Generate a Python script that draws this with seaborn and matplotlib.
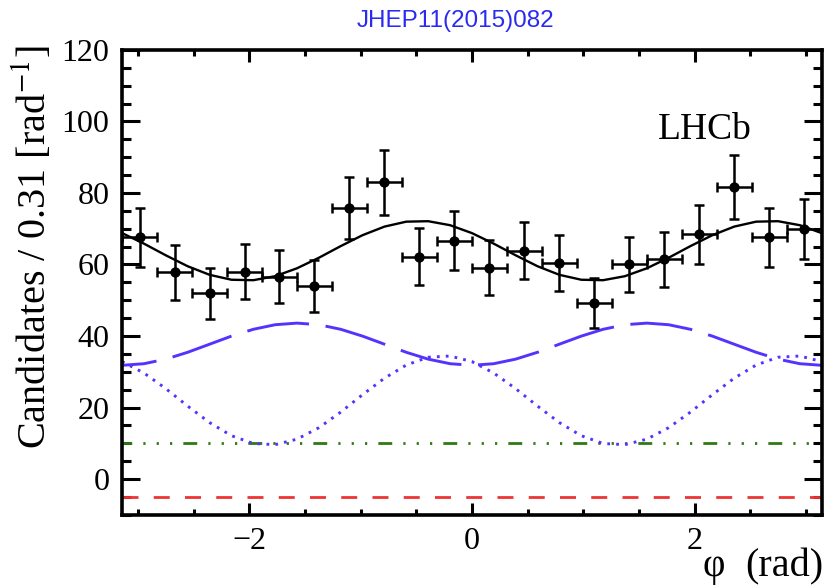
import numpy as np
import pandas as pd
import matplotlib
matplotlib.use("Agg")
import matplotlib.pyplot as plt
from matplotlib.ticker import MultipleLocator
import seaborn as sns

# ---- data ----
bin_centers = [-2.985, -2.670, -2.356, -2.042, -1.728, -1.414, -1.100, -0.785, -0.471, -0.157,
               0.157, 0.471, 0.785, 1.100, 1.414, 1.728, 2.042, 2.356, 2.670, 2.985]
candidates = [67.6, 57.8, 51.9, 58.0, 56.6, 54.0, 75.7, 83.0, 62.2, 66.7,
              59.1, 63.8, 60.3, 49.1, 60.0, 61.4, 68.4, 81.6, 67.6, 69.8]
cand_err = [8.2, 7.6, 7.2, 7.6, 7.5, 7.3, 8.7, 9.1, 7.9, 8.2,
            7.7, 8.0, 7.8, 7.0, 7.7, 7.8, 8.3, 9.0, 8.2, 8.4]
half_bin = 0.157

curve_x = [-3.142, -2.945, -2.749, -2.553, -2.356, -2.160, -1.963, -1.767, -1.571, -1.374,
           -1.178, -0.982, -0.785, -0.589, -0.393, -0.196, 0.000, 0.196, 0.393, 0.589,
           0.785, 0.982, 1.178, 1.374, 1.571, 1.767, 1.963, 2.160, 2.356, 2.553,
           2.749, 2.945, 3.142]
total_fit = [68.77, 65.82, 62.56, 59.51, 57.11, 55.73, 55.60, 56.72, 58.93, 61.88,
             65.14, 68.19, 70.59, 71.97, 72.10, 70.98, 68.77, 65.82, 62.56, 59.51,
             57.11, 55.73, 55.60, 56.72, 58.93, 61.88, 65.14, 68.19, 70.59, 71.97,
             72.10, 70.98, 68.77]
dashed_comp = [31.80, 32.25, 33.53, 35.44, 37.70, 39.96, 41.87, 43.15, 43.60, 43.15,
               41.87, 39.96, 37.70, 35.44, 33.53, 32.25, 31.80, 32.25, 33.53, 35.44,
               37.70, 39.96, 41.87, 43.15, 43.60, 43.15, 41.87, 39.96, 37.70, 35.44,
               33.53, 32.25, 31.80]
dotted_comp = [32.85, 29.64, 25.28, 20.41, 15.79, 12.12, 9.94, 9.61, 11.15, 14.36,
               18.72, 23.59, 28.21, 31.88, 34.06, 34.40, 32.85, 29.64, 25.28, 20.41,
               15.79, 12.12, 9.94, 9.61, 11.15, 14.36, 18.72, 23.59, 28.21, 31.88,
               34.06, 34.40, 32.85]
flat_x = [-3.142, 3.142]
green_comp = [10.0, 10.0]
red_comp = [-5.0, -5.0]

# ---- style ----
sns.set_style("white")
plt.rcParams['font.family'] = ['Liberation Serif', 'DejaVu Serif']
plt.rcParams['mathtext.fontset'] = 'stix'
plt.rcParams['lines.scale_dashes'] = False
plt.rcParams['text.color'] = 'black'

fig = plt.figure(figsize=(8.25, 5.87), dpi=100)
ax = fig.add_axes([0.148, 0.123, 0.848, 0.792])

blue = '#5533ff'
df_tot = pd.DataFrame({'x': curve_x, 'y': total_fit})
df_dash = pd.DataFrame({'x': curve_x, 'y': dashed_comp})
df_dot = pd.DataFrame({'x': curve_x, 'y': dotted_comp})
df_g = pd.DataFrame({'x': flat_x, 'y': green_comp})
df_r = pd.DataFrame({'x': flat_x, 'y': red_comp})

sns.lineplot(data=df_r, x='x', y='y', ax=ax, color='#ee3333', lw=2.0,
             linestyle=(0, (11.5, 11)))
sns.lineplot(data=df_g, x='x', y='y', ax=ax, color='#2f7a12', lw=2.0,
             linestyle=(3, (10, 8, 1.6, 8, 1.6, 8, 1.6, 8)))
sns.lineplot(data=df_dash, x='x', y='y', ax=ax, color=blue, lw=2.1,
             linestyle=(20, (45, 12)))
sns.lineplot(data=df_dot, x='x', y='y', ax=ax, color=blue, lw=2.1,
             linestyle=(0, (2.0, 4.4)))
sns.lineplot(data=df_tot, x='x', y='y', ax=ax, color='black', lw=1.7)

ax.errorbar(bin_centers, candidates, yerr=cand_err, xerr=half_bin, fmt='none',
            ecolor='black', elinewidth=1.8, capsize=3.5, capthick=1.8, zorder=5)
df_pts = pd.DataFrame({'x': bin_centers, 'y': candidates})
sns.scatterplot(data=df_pts, x='x', y='y', ax=ax, color='black', s=55,
                edgecolor='black', linewidth=0, zorder=6)

ax.set_xlim(-3.1416, 3.1416)
ax.set_ylim(-10, 120)
ax.xaxis.set_major_locator(MultipleLocator(2))
ax.xaxis.set_minor_locator(MultipleLocator(0.5))
ax.yaxis.set_major_locator(MultipleLocator(20))
ax.yaxis.set_minor_locator(MultipleLocator(5))
ax.tick_params(which='both', direction='in', top=True, right=True,
               bottom=True, left=True, width=2.2, colors='black')
ax.tick_params(which='major', labelsize=23, pad=9)
ax.tick_params(axis='y', which='major', length=13)
ax.tick_params(axis='y', which='minor', length=6.5)
ax.tick_params(axis='x', which='major', length=8.6)
ax.tick_params(axis='x', which='minor', length=4.3)
for s in ax.spines.values():
    s.set_linewidth(2.6)
    s.set_color('black')

ax.set_xlabel('')
ax.set_ylabel('')
fig.text(0.040, 0.579, 'Candidates / 0.31 [rad$^{-1}$]', rotation=90,
         ha='center', va='center', fontsize=29, color='black')
fig.text(0.852, 0.0187, 'φ', ha='left', va='baseline', fontsize=28, color='black')
fig.text(0.998, 0.0187, '(rad)', ha='right', va='baseline', fontsize=29, color='black')
ax.text(0.766, 0.828, 'LHCb', transform=ax.transAxes, fontsize=27,
        ha='left', va='center', color='black')
fig.text(0.552, 0.965, 'JHEP11(2015)082', ha='center', va='center',
         fontsize=17.5, color='#2a2af0', family=['Liberation Sans', 'DejaVu Sans'])

fig.savefig('out.png', dpi=100)
